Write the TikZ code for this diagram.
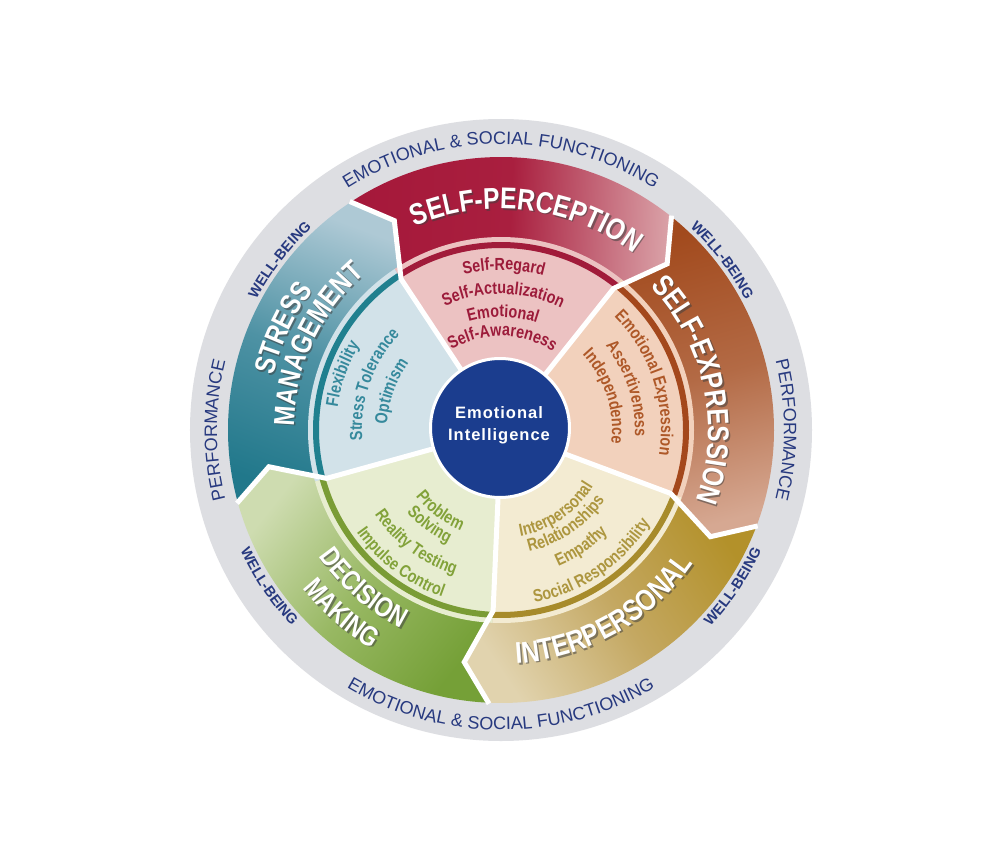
\documentclass[tikz,border=0pt]{standalone}
\usepackage{fontspec}
\setmainfont{Liberation Sans}
\newfontfamily\ringfont{Liberation Sans}
\newfontfamily\condfont{Liberation Sans}[FakeStretch=0.82]
\newfontfamily\eifont{Liberation Sans}[LetterSpace=6]
\usetikzlibrary{decorations.text}

\definecolor{ringgray}{HTML}{DDDEE2}
\definecolor{ringblue}{HTML}{27397F}
\definecolor{eiblue}{HTML}{1B3D8E}
\definecolor{spDark}{HTML}{A5183A}\definecolor{spMid}{HTML}{A91F3F}\definecolor{spLight}{HTML}{D9A0A6}
\definecolor{spPale}{HTML}{ECC2C2}\definecolor{spLip}{HTML}{A11B3A}\definecolor{spText}{HTML}{9C1B3A}
\definecolor{seDark}{HTML}{A24A1D}\definecolor{seMid}{HTML}{B36A45}\definecolor{seLight}{HTML}{D6A892}
\definecolor{sePale}{HTML}{F2D1BC}\definecolor{seLip}{HTML}{A4481C}\definecolor{seText}{HTML}{AE5828}
\definecolor{smDark}{HTML}{21788B}\definecolor{smMid}{HTML}{4E92A4}\definecolor{smLight}{HTML}{AEC9D5}
\definecolor{smPale}{HTML}{D2E2E9}\definecolor{smLip}{HTML}{20808F}\definecolor{smText}{HTML}{35899C}
\definecolor{dmDark}{HTML}{75A037}\definecolor{dmMid}{HTML}{98B863}\definecolor{dmLight}{HTML}{CEDCB0}
\definecolor{dmPale}{HTML}{E7EDD0}\definecolor{dmLip}{HTML}{7A9C35}\definecolor{dmText}{HTML}{82A23A}
\definecolor{ipDark}{HTML}{B3912A}\definecolor{ipMid}{HTML}{C4A862}\definecolor{ipLight}{HTML}{E1D3AE}
\definecolor{ipPale}{HTML}{F3EBD2}\definecolor{ipLip}{HTML}{A78B2B}\definecolor{ipText}{HTML}{AD963F}

% curved text, tops outward (clockwise path)
\newcommand\txtout[4]{\path[decorate,decoration={text along path,text align=center,text={|#3|#4}}]
  ({#2+85}:#1) arc[start angle={#2+85}, end angle={#2-85}, radius=#1];}
% curved text, tops inward (counter-clockwise path)
\newcommand\txtin[4]{\path[decorate,decoration={text along path,text align=center,text={|#3|#4}}]
  ({#2-85}:#1) arc[start angle={#2-85}, end angle={#2+85}, radius=#1];}

\newcommand\ringfmt{\color{ringblue}\ringfont\fontsize{18pt}{18pt}\selectfont}
\newcommand\wellfmt{\color{ringblue}\ringfont\bfseries\fontsize{14.5pt}{14.5pt}\selectfont}
\newcommand\bandw[1]{\color{white}\condfont\bfseries\fontsize{#1}{#1}\selectfont}
\newcommand\bands[1]{\color{black!75}\condfont\bfseries\fontsize{#1}{#1}\selectfont}
\newcommand\innerfmt[1]{\color{#1}\condfont\bfseries\fontsize{17.5pt}{17.5pt}\selectfont}

\begin{document}
\begin{tikzpicture}[x=1pt,y=1pt]
\useasboundingbox (-501,-427) rectangle (502,430);
\fill[white] (-501,-427) rectangle (502,430);
\fill[ringgray] (0,0) circle[radius=311pt];

% bands (gradient dark at counter-clockwise end, light at clockwise end)
\foreach \b/\nm/\sa in {-20.5/se/-164.5, 51.5/sp/-92.5, 123.5/sm/-20.5, 195.5/dm/51.5, 267.5/ip/123.5}{
  \shade[top color=\nm Light, bottom color=\nm Dark, middle color=\nm Mid, shading angle=\sa]
    (\b:273pt) -- ({\b-6.5}:235pt) -- (\b:181pt)
    arc[start angle=\b, end angle={\b+72}, radius=181pt]
    -- ({\b+65.5}:235pt) -- ({\b+72}:273pt)
    arc[start angle={\b+72}, end angle=\b, radius=273pt] -- cycle;
}
% inner sectors and lips
\foreach \b/\nm in {-20.5/se, 51.5/sp, 123.5/sm, 195.5/dm, 267.5/ip}{
  \fill[\nm Pale] (0,0) -- (\b:193pt) arc[start angle=\b, end angle={\b+72}, radius=193pt] -- cycle;
  \draw[\nm Lip, line width=6pt] (\b:185pt) arc[start angle=\b, end angle={\b+72}, radius=185pt];
}
% white separators
\foreach \b in {-20.5, 51.5, 123.5, 195.5, 267.5}{
  \draw[white, line width=5pt] (0,0) -- (\b:181pt) -- ({\b-6.5}:235pt) -- (\b:274pt);
}

% centre
\node[circle, fill=eiblue, draw=white, line width=3pt, minimum size=139pt, inner sep=0pt] (ei) at (-1,2) {};
\node[font={\eifont\bfseries\fontsize{16.5pt}{18pt}\selectfont}, text=white, anchor=base] (eiA) at (-2,12) {Emotional};
\node[font={\eifont\bfseries\fontsize{16.5pt}{18pt}\selectfont}, text=white, anchor=base] (eiB) at (-2,-10) {Intelligence};

% ring texts
\txtout{286pt}{90}{\ringfmt}{EMOTIONAL {\&} SOCIAL FUNCTIONING}
\txtin{300pt}{270}{\ringfmt}{EMOTIONAL {\&} SOCIAL FUNCTIONING}
\txtout{284pt}{180}{\ringfmt}{PERFORMANCE}
\txtout{283pt}{0}{\ringfmt}{PERFORMANCE}
\txtout{277pt}{37.5}{\wellfmt}{WELL-BEING}
\txtout{277pt}{142.5}{\wellfmt}{WELL-BEING}
\txtin{287pt}{214}{\wellfmt}{WELL-BEING}
\txtin{287pt}{326}{\wellfmt}{WELL-BEING}

% band label shadows
\begin{scope}[shift={(1.6,-1.6)}, opacity=0.55]
\txtout{221pt}{83}{\bands{30pt}}{SELF-PERCEPTION}
\txtout{207pt}{12}{\bands{30pt}}{SELF-EXPRESSION}
\txtout{234pt}{155}{\bands{29pt}}{STRESS}
\txtout{207pt}{155}{\bands{29pt}}{MANAGEMENT}
\txtin{222pt}{229}{\bands{28pt}}{DECISION}
\txtin{254pt}{229}{\bands{28pt}}{MAKING}
\txtin{234pt}{299.5}{\bands{30pt}}{INTERPERSONAL}
\end{scope}
% band labels
\txtout{221pt}{83}{\bandw{30pt}}{SELF-PERCEPTION}
\txtout{207pt}{12}{\bandw{30pt}}{SELF-EXPRESSION}
\txtout{234pt}{155}{\bandw{29pt}}{STRESS}
\txtout{207pt}{155}{\bandw{29pt}}{MANAGEMENT}
\txtin{222pt}{229}{\bandw{28pt}}{DECISION}
\txtin{254pt}{229}{\bandw{28pt}}{MAKING}
\txtin{234pt}{299.5}{\bandw{30pt}}{INTERPERSONAL}

% inner texts
\txtout{160pt}{89}{\innerfmt{spText}}{Self-Regard}
\txtout{136pt}{89}{\innerfmt{spText}}{Self-Actualization}
\txtout{113pt}{89}{\innerfmt{spText}}{Emotional}
\txtout{94pt}{89}{\innerfmt{spText}}{Self-Awareness}

\txtout{160pt}{18}{\innerfmt{seText}}{Emotional Expression}
\txtout{134pt}{18}{\innerfmt{seText}}{Assertiveness}
\txtout{111pt}{18}{\innerfmt{seText}}{Independence}

\txtout{165pt}{160.5}{\innerfmt{smText}}{Flexibility}
\txtout{139pt}{160.5}{\innerfmt{smText}}{Stress Tolerance}
\txtout{114pt}{160.5}{\innerfmt{smText}}{Optimism}

\txtin{108pt}{233}{\innerfmt{dmText}}{Problem}
\txtin{125pt}{233}{\innerfmt{dmText}}{Solving}
\txtin{152pt}{233}{\innerfmt{dmText}}{Reality Testing}
\txtin{177pt}{233}{\innerfmt{dmText}}{Impulse Control}

\txtin{108pt}{304.5}{\innerfmt{ipText}}{Interpersonal}
\txtin{125pt}{304.5}{\innerfmt{ipText}}{Relationships}
\txtin{148pt}{304.5}{\innerfmt{ipText}}{Empathy}
\txtin{176pt}{304.5}{\innerfmt{ipText}}{Social Responsibility}
\end{tikzpicture}
\end{document}
